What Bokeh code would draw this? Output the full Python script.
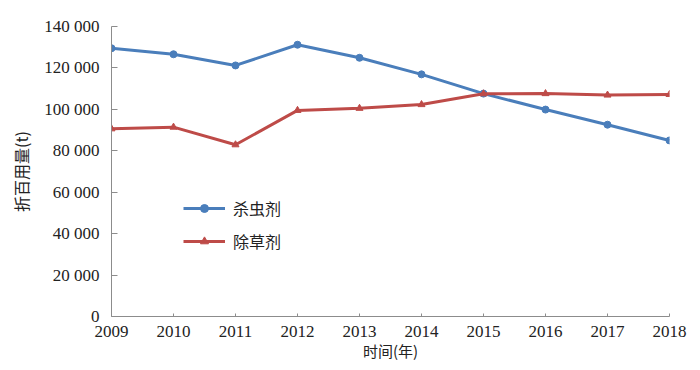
from bokeh.plotting import figure
from bokeh.models import FixedTicker, Legend, LegendItem, Range1d
from bokeh.embed import file_html
from bokeh.resources import INLINE

years = [2009, 2010, 2011, 2012, 2013, 2014, 2015, 2016, 2017, 2018]
insecticide = [129500, 126600, 121200, 131200, 124900, 116900, 107600, 99900, 92600, 85000]
herbicide = [90600, 91400, 82900, 99500, 100500, 102300, 107500, 107600, 106900, 107200]
y_ticks = [0, 20000, 40000, 60000, 80000, 100000, 120000, 140000]
y_tick_labels = ["0", "20 000", "40 000", "60 000", "80 000", "100 000", "120 000", "140 000"]
name_insect = "杀虫剂"
name_herb = "除草剂"
x_title = "时间(年)"
y_title = "折百用量(t)"

CJK = "Noto Sans CJK SC"
SERIF = "Liberation Serif"
BLUE = "#4a7ebb"
RED = "#be4b48"
TXT = "#222222"

p = figure(width=700, height=370, output_backend="svg", toolbar_location=None,
           x_range=Range1d(2009, 2018), y_range=Range1d(0, 140000),
           frame_width=558, frame_height=290,
           min_border_left=111, min_border_right=31, min_border_top=26, min_border_bottom=54)
p.outline_line_color = None
p.xgrid.visible = False
p.ygrid.visible = False
p.background_fill_color = "white"
p.border_fill_color = "white"

l1 = p.line(years, insecticide, line_color=BLUE, line_width=3)
m1 = p.scatter(years, insecticide, marker="circle", size=7, fill_color=BLUE, line_color=BLUE)
l2 = p.line(years, herbicide, line_color=RED, line_width=3)
m2 = p.scatter(years, herbicide, marker="triangle", size=7, fill_color=RED, line_color=RED)

xa = p.xaxis[0]
xa.ticker = FixedTicker(ticks=years)
xa.minor_tick_line_color = None
xa.major_tick_in = 3
xa.major_tick_out = 0
xa.axis_line_color = "#8c8c8c"
xa.major_tick_line_color = "#8c8c8c"
xa.major_label_text_font = SERIF
xa.major_label_text_font_size = "17px"
xa.major_label_text_color = TXT
xa.major_label_standoff = 9
xa.axis_label = x_title
xa.axis_label_text_font = CJK
xa.axis_label_text_font_size = "15px"
xa.axis_label_text_font_style = "normal"
xa.axis_label_text_color = TXT
xa.axis_label_standoff = 0

ya = p.yaxis[0]
ya.ticker = FixedTicker(ticks=y_ticks)
ya.major_label_overrides = {t: s for t, s in zip(y_ticks, y_tick_labels)}
ya.minor_tick_line_color = None
ya.major_tick_in = 6
ya.major_tick_out = 0
ya.axis_line_color = "#8c8c8c"
ya.major_tick_line_color = "#8c8c8c"
ya.major_label_text_font = SERIF
ya.major_label_text_font_size = "17px"
ya.major_label_text_color = TXT
ya.major_label_standoff = 12
ya.axis_label = y_title
ya.axis_label_text_font = CJK
ya.axis_label_text_font_size = "16px"
ya.axis_label_text_font_style = "normal"
ya.axis_label_text_color = TXT
ya.axis_label_standoff = 8

legend = Legend(items=[LegendItem(label=name_insect, renderers=[l1, m1]),
                       LegendItem(label=name_herb, renderers=[l2, m2])],
                location=(72, 63))
legend.glyph_width = 42
legend.glyph_height = 20
legend.label_height = 20
legend.padding = 0
legend.margin = 0
legend.spacing = 9
legend.label_standoff = 8
legend.border_line_color = None
legend.background_fill_alpha = 0
legend.label_text_font = CJK
legend.label_text_font_size = "16px"
legend.label_text_color = TXT
p.add_layout(legend)

open("out.html", "w").write(file_html(p, INLINE))
